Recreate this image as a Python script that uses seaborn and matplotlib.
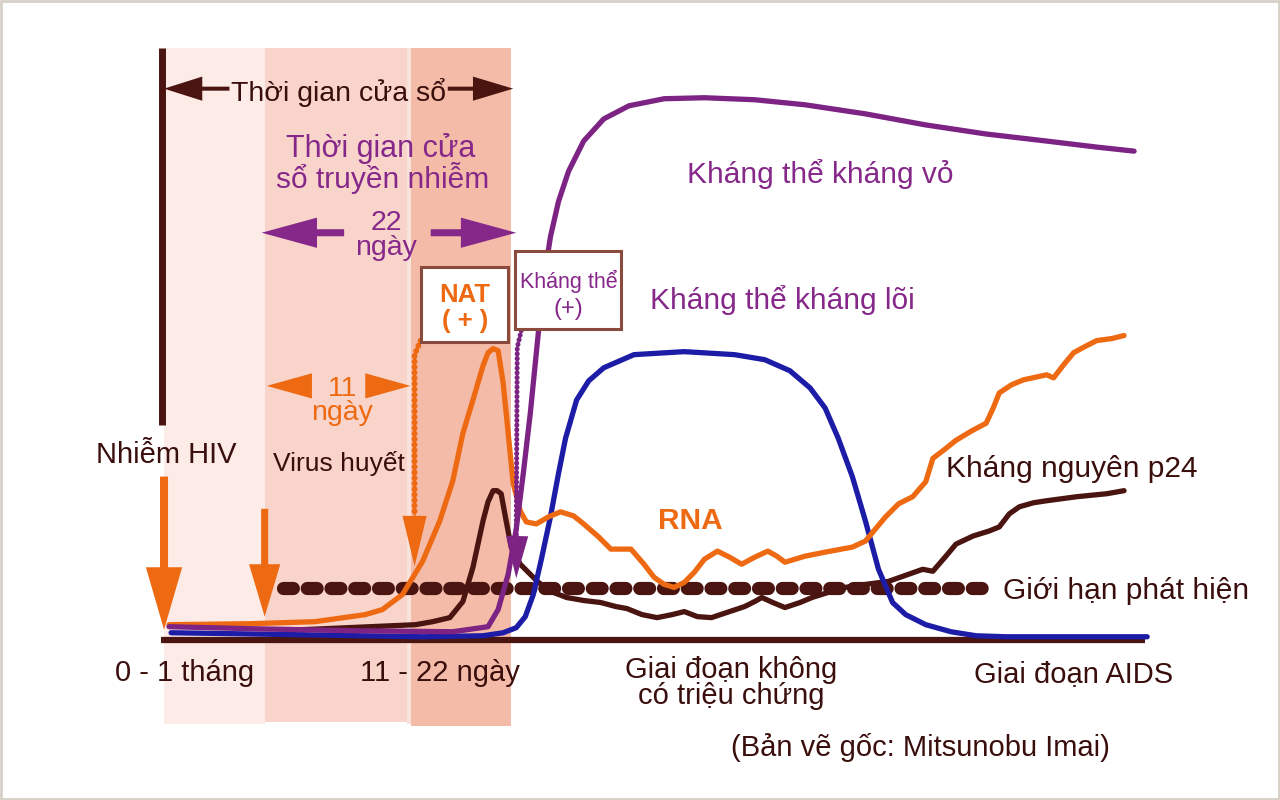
import matplotlib.pyplot as plt
import matplotlib.patches as mpatches
import pandas as pd
import seaborn as sns

sns.set_style("white")
plt.rcParams['font.family'] = ['Liberation Sans', 'DejaVu Sans']

# colours
DARK = '#4a1511'
ORANGE = '#ee6a12'
PURPLE = '#7c2383'
BLUE = '#1c1ca6'
TXT_PURPLE = '#86278a'
TXT_DARK = '#3a0e0c'

# curves, in picture coordinates (x to the right, y downwards)
env_x = [168, 250, 350, 450, 485, 495, 505, 513, 520, 527, 533, 540, 547, 555, 565,
         580, 600, 625, 660, 700, 750, 800, 860, 920, 980, 1040, 1090, 1127]
env_y = [622, 624, 626, 627, 622, 605, 570, 525, 470, 410, 350, 280, 235, 200, 170,
         140, 118, 105, 98, 97, 99, 104, 113, 124, 133, 140, 146, 150]

core_x = [170, 300, 420, 480, 500, 513, 522, 530, 538, 547, 555, 562, 573, 585, 600, 630,
          680, 730, 760, 785, 805, 820, 833, 847, 860, 873, 887, 900, 920, 945, 970, 1000, 1140]
core_y = [628, 630, 632, 631, 628, 623, 612, 590, 555, 513, 470, 435, 397, 378, 365, 352,
          349, 352, 357, 368, 385, 405, 435, 473, 517, 565, 598, 610, 620, 627, 631, 632, 632]

rna_x = [168, 250, 313, 363, 380, 400, 420, 437, 450, 460, 470, 480, 485, 490, 495, 500,
         505, 510, 517, 523, 533, 545, 557, 570, 580, 595, 607, 627, 640, 650, 660, 670,
         680, 690, 700, 713, 725, 737, 750, 763, 772, 780, 800, 820, 847, 860, 870, 880,
         893, 907, 920, 927, 940, 950, 965, 980, 987, 993, 1005, 1017, 1040, 1047, 1057,
         1067, 1080, 1090, 1105, 1117]
rna_y = [620, 619, 617, 610, 605, 590, 557, 517, 477, 430, 397, 363, 350, 346, 348, 380,
         430, 480, 507, 518, 520, 513, 508, 512, 520, 533, 545, 545, 560, 573, 580, 583,
         578, 568, 555, 547, 553, 560, 553, 547, 552, 558, 552, 548, 543, 537, 525, 513,
         500, 493, 478, 455, 445, 437, 428, 420, 405, 390, 382, 377, 372, 375, 362,
         350, 343, 338, 336, 333]

p24_x = [300, 413, 430, 447, 460, 470, 480, 485, 490, 494, 498, 503, 508, 517, 527, 535,
         550, 563, 580, 597, 612, 623, 638, 653, 668, 680, 693, 707, 722, 740, 750, 757,
         768, 780, 795, 807, 823, 840, 860, 883, 900, 917, 927, 940, 950, 967, 983, 993,
         1003, 1013, 1027, 1040, 1070, 1100, 1117]
p24_y = [625, 620, 617, 613, 597, 563, 517, 498, 487, 487, 490, 517, 543, 560, 570, 578,
         588, 593, 596, 598, 602, 604, 610, 613, 610, 607, 612, 613, 608, 602, 597, 593,
         598, 603, 598, 593, 588, 583, 580, 577, 571, 565, 567, 552, 540, 532, 527, 523,
         510, 503, 499, 497, 493, 490, 487]

# background periods
band_edges = [163, 263, 404, 408, 508]
band_colors = ['#fcebe7', '#f8d4ca', '#fae2dc', '#f4bba8']
band_bottoms = [719, 717, 719, 721]

fig = plt.figure(figsize=(12.8, 8), dpi=100)
ax = fig.add_axes([0, 0, 1, 1])

for i, c in enumerate(band_colors):
    ax.add_patch(mpatches.Rectangle((band_edges[i], 48), band_edges[i + 1] - band_edges[i],
                                    band_bottoms[i] - 48, color=c, lw=0, zorder=0))
ax.add_patch(mpatches.Rectangle((1, 1), 1270, 792, fill=False, ec='#d6d0c6', lw=2, zorder=0))

# axis and start line
ax.plot([160, 1138], [635, 635], color=DARK, lw=4.5, solid_capstyle='butt', zorder=2)
ax.plot([161, 161], [48, 422], color=DARK, lw=5, solid_capstyle='butt', zorder=2)

# detection limit
ax.plot([281, 981], [584, 584], color=DARK, lw=9.5, dash_capstyle='round',
        dashes=(0.75, 1.05), zorder=3)

curves = [(p24_x, p24_y, DARK, 4), (core_x, core_y, BLUE, 5), (rna_x, rna_y, ORANGE, 6),
          (env_x, env_y, PURPLE, 7)]
for xs, ys, col, z in curves:
    d = pd.DataFrame({'x': xs, 'y': ys})
    sns.lineplot(data=d, x='x', y='y', sort=False, estimator=None, ax=ax, color=col,
                 lw=3.8, zorder=z)
ax.set_xlim(0, 1272)
ax.set_ylim(794, 0)
ax.axis('off')

# dotted leaders
ax.plot([418, 412, 412], [338, 352, 512], color=ORANGE, lw=4.2, dashes=(0.05, 0.9),
        dash_capstyle='round', zorder=8)
ax.plot([518, 514, 513], [328, 345, 535], color=PURPLE, lw=3.6, dashes=(0.05, 0.9),
        dash_capstyle='round', zorder=8)


def arrow(x0, y0, x1, y1, col, w, hw, hl, z=9):
    ax.arrow(x0, y0, x1 - x0, y1 - y0, width=w, head_width=hw, head_length=hl,
             length_includes_head=True, color=col, lw=0, zorder=z)


# window arrows
arrow(228, 88, 163, 88, DARK, 4, 24, 38)
arrow(445, 88, 510, 88, DARK, 4, 24, 40)
arrow(342, 231, 260, 231, TXT_PURPLE, 7, 30, 55)
arrow(428, 231, 513, 231, TXT_PURPLE, 7, 30, 55)
arrow(310, 383, 265, 383, ORANGE, 1, 25, 45)
arrow(363, 383, 408, 383, ORANGE, 1, 25, 45)

# down arrows
arrow(163, 473, 163, 625, ORANGE, 8, 36, 62)
arrow(263, 505, 263, 612, ORANGE, 7, 31, 52)
arrow(412, 510, 412, 562, ORANGE, 2, 24, 50)
arrow(514, 530, 513, 574, PURPLE, 2, 22, 42)

# boxes
ax.add_patch(mpatches.Rectangle((418, 265), 87, 74, fc='white', ec='#8b4a3e', lw=2.2, zorder=10))
ax.add_patch(mpatches.Rectangle((512, 249), 105, 78, fc='white', ec='#8b4a3e', lw=2.2, zorder=10))

texts = [
    (336, 100, 'Thời gian cửa sổ', TXT_DARK, 20.5, 'normal'),
    (378, 156, 'Thời gian cửa', TXT_PURPLE, 22, 'normal'),
    (380, 187, 'sổ truyền nhiễm', TXT_PURPLE, 21.5, 'normal'),
    (384, 228, '22', TXT_PURPLE, 20.5, 'normal'),
    (384, 253, 'ngày', TXT_PURPLE, 20.5, 'normal'),
    (340, 393, '11', ORANGE, 20.5, 'normal'),
    (340, 417, 'ngày', ORANGE, 20.5, 'normal'),
    (462, 300, 'NAT', ORANGE, 18.5, 'bold'),
    (462, 326, '( + )', ORANGE, 18.5, 'bold'),
    (165, 460, 'Nhiễm HIV', TXT_DARK, 21, 'normal'),
    (337, 467, 'Virus huyết', TXT_DARK, 19, 'normal'),
    (686, 525, 'RNA', ORANGE, 21.5, 'bold'),
    (815, 182, 'Kháng thể kháng vỏ', TXT_PURPLE, 21.5, 'normal'),
    (777, 307, 'Kháng thể kháng lõi', TXT_PURPLE, 21.5, 'normal'),
    (1065, 473, 'Kháng nguyên p24', TXT_DARK, 21.5, 'normal'),
    (1119, 595, 'Giới hạn phát hiện', TXT_DARK, 21.5, 'normal'),
    (183, 676, '0 - 1 tháng', TXT_DARK, 21, 'normal'),
    (437, 676, '11 - 22 ngày', TXT_DARK, 21, 'normal'),
    (727, 673, 'Giai đoạn không', TXT_DARK, 21, 'normal'),
    (727, 699, 'có triệu chứng', TXT_DARK, 21, 'normal'),
    (1067, 677, 'Giai đoạn AIDS', TXT_DARK, 21, 'normal'),
    (915, 750, '(Bản vẽ gốc: Mitsunobu Imai)', TXT_DARK, 21, 'normal'),
    (565, 286, 'Kháng thể', TXT_PURPLE, 15.5, 'normal'),
    (565, 313, '(+)', TXT_PURPLE, 17, 'normal'),
]
for x, y, s, col, fs, fw in texts:
    ax.text(x, y, s, color=col, fontsize=fs, fontweight=fw, ha='center', va='baseline', zorder=11)

fig.savefig('out.png', dpi=100)
